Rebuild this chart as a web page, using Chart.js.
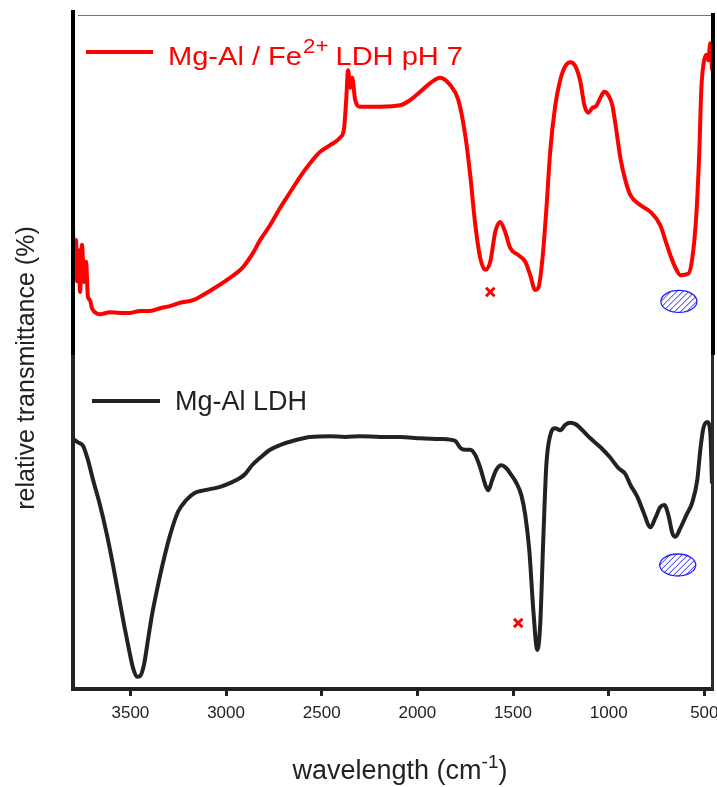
<!DOCTYPE html>
<html>
<head>
<meta charset="utf-8">
<title>FTIR spectra</title>
<script src="https://cdn.jsdelivr.net/npm/chart.js@4.4.0/dist/chart.umd.min.js"></script>
<style>
  html, body { margin: 0; padding: 0; background: #fff; overflow: hidden; }
</style>
</head>
<body>
<canvas id="myChart" width="730" height="787"></canvas>
<script>
'use strict';

// red curve: Mg-Al / Fe2+ LDH pH 7 (wavenumber, relative transmittance)
let redWave = [3800, 3795, 3784, 3779, 3769, 3763, 3753, 3742, 3732, 3722, 3711, 3701, 3685, 3659, 3606, 3554,
  3502, 3450, 3397, 3345, 3293, 3240, 3172, 3083, 2995, 2911, 2859, 2822, 2770, 2717, 2665, 2613, 2561, 2508,
  2456, 2404, 2383, 2372, 2362, 2351, 2341, 2325, 2299, 2194, 2090, 2037, 1985, 1933, 1881, 1828, 1786, 1750,
  1724, 1697, 1671, 1645, 1619, 1593, 1567, 1541, 1514, 1473, 1436, 1410, 1384, 1368, 1347, 1326, 1305, 1279,
  1253, 1227, 1201, 1174, 1148, 1127, 1107, 1086, 1065, 1044, 1023, 1002, 981, 960, 939, 913, 887, 835, 782,
  730, 704, 678, 651, 625, 584, 563, 542, 526, 516, 505, 490, 479, 469, 460];
let redValue = [68.8, 61.4, 66.6, 60.5, 65.1, 58.9, 65.9, 60.4, 63.4, 58.2, 57.7, 56.5, 55.9, 55.6, 55.9, 55.8,
  55.8, 56.1, 56.1, 56.5, 56.8, 57.3, 57.7, 59.1, 60.7, 62.6, 64.7, 66.6, 68.8, 71.4, 73.7, 76.0, 78.0, 79.7,
  80.7, 81.8, 83.2, 87.4, 91.8, 89.2, 90.7, 87.4, 86.4, 86.4, 86.6, 87.4, 88.6, 89.9, 90.7, 89.6, 87.4, 82.2,
  76.3, 68.8, 63.9, 62.2, 63.4, 67.8, 69.3, 67.8, 65.4, 64.4, 63.4, 61.4, 59.2, 59.5, 63.6, 71.1, 80.0, 86.6,
  90.4, 92.4, 93.0, 92.4, 90.1, 86.6, 85.5, 86.2, 86.5, 87.7, 88.6, 88.1, 86.6, 82.9, 78.8, 75.5, 73.3, 71.8, 70.8,
  68.8, 66.6, 64.4, 62.5, 61.4, 61.6, 63.9, 70.3, 80.0, 88.9, 92.6, 94.1, 93.3, 95.8, 91.8];

// black curve: Mg-Al LDH
let blackWave = [3800, 3774, 3748, 3722, 3695, 3659, 3622, 3591, 3559, 3533, 3507, 3486, 3465, 3450, 3429, 3408,
  3387, 3361, 3329, 3293, 3251, 3209, 3162, 3110, 3031, 2968, 2927, 2900, 2864, 2822, 2770, 2717, 2639, 2560,
  2456, 2377, 2299, 2194, 2090, 1985, 1881, 1802, 1776, 1750, 1724, 1697, 1671, 1645, 1629, 1609, 1588, 1562,
  1536, 1510, 1483, 1457, 1436, 1415, 1394, 1373, 1358, 1342, 1326, 1305, 1279, 1253, 1227, 1201, 1174, 1148,
  1096, 1044, 991, 950, 913, 887, 850, 819, 782, 756, 730, 709, 688, 667, 651, 625, 594, 563, 537, 521, 505,
  484, 469, 460];
let blackValue = [37.1, 36.6, 36.1, 34.0, 31.0, 27.3, 22.8, 18.4, 13.5, 9.5, 5.8, 3.1, 1.8, 1.9, 3.6, 7.3,
  11.0, 14.7, 18.8, 22.8, 26.3, 28.0, 29.1, 29.5, 30.0, 30.7, 31.3, 31.9, 33.2, 34.3, 35.5, 36.2, 36.9, 37.4,
  37.5, 37.4, 37.5, 37.4, 37.4, 37.2, 37.1, 36.8, 35.8, 35.5, 35.5, 34.7, 32.8, 30.3, 29.5, 31.0, 32.5, 33.2,
  32.8, 31.8, 30.6, 28.8, 25.8, 20.6, 11.7, 5.8, 9.5, 22.1, 33.2, 37.7, 38.7, 38.4, 39.2, 39.5, 39.3, 38.7,
  37.2, 35.9, 34.3, 32.8, 31.9, 30.3, 28.5, 26.3, 24.0, 25.4, 27.0, 27.3, 25.8, 23.1, 22.6, 23.9, 25.8, 27.7,
  31.0, 35.5, 38.7, 39.6, 38.1, 30.5];

// markers
let crossWave = [1619, 1473];
let crossValue = [58.9, 9.8];
let ovalWave = [633, 639];
let ovalValue = [57.5, 18.4];

let xTicks = [3500, 3000, 2500, 2000, 1500, 1000, 500];
let redLabel = ['Mg-Al / Fe', '2+', ' LDH pH 7'];
let blackLabel = 'Mg-Al LDH';
let xTitle = ['wavelength (cm', '-1', ')'];
let yTitle = 'relative transmittance (%)';

let fontName = '"Liberation Sans", Arial, sans-serif';

function toPoints(xs, ys) {
  let pts = [];
  for (let i = 0; i < xs.length; i++) {
    pts.push({ x: xs[i], y: ys[i] });
  }
  return pts;
}

let extras = {
  id: 'extras',
  afterDraw(chart) {
    let ctx = chart.ctx;
    let area = chart.chartArea;
    let xs = chart.scales.x;
    let ys = chart.scales.y;
    let mid = 355;

    ctx.save();
    // frame bits the axes do not draw
    ctx.strokeStyle = '#777';
    ctx.lineWidth = 1;
    ctx.beginPath();
    ctx.moveTo(area.left + 5, area.top + 0.5);
    ctx.lineTo(area.right + 2, area.top + 0.5);
    ctx.stroke();

    ctx.lineWidth = 4;
    ctx.strokeStyle = '#000';
    ctx.beginPath();
    ctx.moveTo(area.left, area.top - 5);
    ctx.lineTo(area.left, mid);
    ctx.moveTo(area.right + 1, area.top - 2);
    ctx.lineTo(area.right + 1, mid);
    ctx.stroke();
    ctx.lineWidth = 3;
    ctx.strokeStyle = '#2a2a2a';
    ctx.beginPath();
    ctx.moveTo(area.right + 0.5, mid);
    ctx.lineTo(area.right + 0.5, area.bottom);
    ctx.stroke();

    // hatched ovals
    for (let i = 0; i < ovalWave.length; i++) {
      let cx = xs.getPixelForValue(ovalWave[i]);
      let cy = ys.getPixelForValue(ovalValue[i]);
      ctx.save();
      ctx.beginPath();
      ctx.ellipse(cx, cy, 18, 11, 0, 0, Math.PI * 2);
      ctx.clip();
      ctx.strokeStyle = '#1f1fff';
      ctx.lineWidth = 1;
      ctx.beginPath();
      for (let k = -42; k <= 42; k += 6) {
        ctx.moveTo(cx + k - 14, cy + 14);
        ctx.lineTo(cx + k + 14, cy - 14);
      }
      ctx.stroke();
      ctx.restore();
      ctx.strokeStyle = '#1f1fff';
      ctx.lineWidth = 1.3;
      ctx.beginPath();
      ctx.ellipse(cx, cy, 18, 11, 0, 0, Math.PI * 2);
      ctx.stroke();
    }

    // legends
    ctx.lineCap = 'butt';
    ctx.lineWidth = 4;
    ctx.strokeStyle = '#ff0000';
    ctx.beginPath();
    ctx.moveTo(86, 52);
    ctx.lineTo(153, 52);
    ctx.stroke();
    ctx.strokeStyle = '#222';
    ctx.beginPath();
    ctx.moveTo(92, 401);
    ctx.lineTo(160, 401);
    ctx.stroke();

    ctx.textBaseline = 'alphabetic';
    ctx.textAlign = 'left';
    ctx.fillStyle = '#ff0000';
    ctx.font = '26px ' + fontName;
    let w0 = ctx.measureText(redLabel[0]).width;
    let w2 = ctx.measureText(redLabel[2]).width;
    ctx.font = '20px ' + fontName;
    let w1 = ctx.measureText(redLabel[1]).width;
    let stretch = 295 / (w0 + w1 + w2);
    ctx.save();
    ctx.translate(168, 65);
    ctx.scale(stretch, 1);
    ctx.font = '26px ' + fontName;
    ctx.fillText(redLabel[0], 0, 0);
    ctx.fillText(redLabel[2], w0 + w1, 0);
    ctx.font = '20px ' + fontName;
    ctx.fillText(redLabel[1], w0 + 1, -12);
    ctx.restore();

    ctx.fillStyle = '#222';
    ctx.font = '27px ' + fontName;
    ctx.fillText(blackLabel, 175, 410);

    // axis titles
    ctx.font = '27px ' + fontName;
    let t0 = ctx.measureText(xTitle[0]).width;
    let t2 = ctx.measureText(xTitle[2]).width;
    ctx.font = '19px ' + fontName;
    let t1 = ctx.measureText(xTitle[1]).width;
    let start = 400 - (t0 + t1 + t2) / 2;
    ctx.font = '27px ' + fontName;
    ctx.fillText(xTitle[0], start, 779);
    ctx.fillText(xTitle[2], start + t0 + t1, 779);
    ctx.font = '19px ' + fontName;
    ctx.fillText(xTitle[1], start + t0, 768);

    ctx.save();
    ctx.translate(27, 368);
    ctx.rotate(-Math.PI / 2);
    ctx.textAlign = 'center';
    ctx.textBaseline = 'middle';
    ctx.font = '25px ' + fontName;
    ctx.fillText(yTitle, 0, 0);
    ctx.restore();

    ctx.restore();
  }
};

let ctx = document.getElementById('myChart').getContext('2d');

new Chart(ctx, {
  type: 'line',
  data: {
    datasets: [{
      label: redLabel.join(''),
      data: toPoints(redWave, redValue),
      borderColor: '#ff0000',
      borderWidth: 4,
      pointRadius: 0,
      cubicInterpolationMode: 'monotone',
      borderJoinStyle: 'round'
    },
    {
      label: blackLabel,
      data: toPoints(blackWave, blackValue),
      borderColor: '#222222',
      borderWidth: 4,
      pointRadius: 0,
      cubicInterpolationMode: 'monotone',
      borderJoinStyle: 'round'
    },
    {
      type: 'scatter',
      label: 'marks',
      data: toPoints(crossWave, crossValue),
      pointStyle: 'crossRot',
      pointRadius: 6,
      borderWidth: 3,
      borderColor: '#ff0000',
      showLine: false
    }]
  },
  options: {
    responsive: false,
    animation: false,
    // canvas is wider than the window so the last tick label runs off the edge
    layout: { padding: { left: 0, right: 18, top: 15, bottom: 0 } },
    plugins: {
      legend: { display: false },
      tooltip: { enabled: false }
    },
    scales: {
      x: {
        type: 'linear',
        reverse: true,
        min: 460,
        max: 3800,
        afterBuildTicks: function (scale) {
          scale.ticks = xTicks.map(v => ({ value: v }));
        },
        afterFit: function (scale) {
          scale.height = 98;
        },
        grid: {
          drawOnChartArea: false,
          drawTicks: true,
          tickLength: 7,
          lineWidth: 3,
          color: '#222'
        },
        border: { display: true, width: 4, color: '#222' },
        ticks: {
          autoSkip: false,
          maxRotation: 0,
          padding: 7,
          color: '#222',
          font: { family: fontName, size: 17 },
          callback: function (value) { return String(value); }
        }
      },
      y: {
        min: 0,
        max: 100,
        afterFit: function (scale) {
          scale.width = 73;
        },
        grid: { display: false },
        border: { display: true, width: 4, color: '#222' },
        ticks: { display: false }
      }
    }
  },
  plugins: [extras]
});
</script>
</body>
</html>
